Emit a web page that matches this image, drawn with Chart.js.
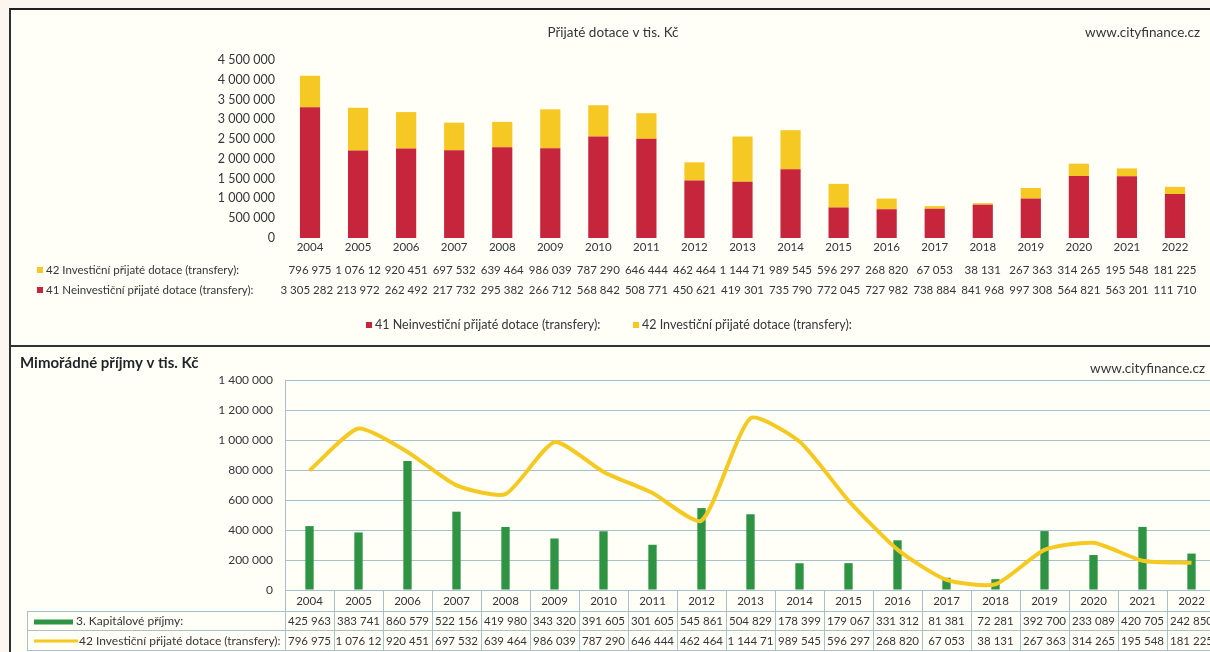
<!DOCTYPE html>
<html>
<head>
<meta charset="utf-8">
<script src="https://cdn.jsdelivr.net/npm/chart.js@4.4.1/dist/chart.umd.min.js"></script>
<style>
  html, body { margin: 0; padding: 0; width: 1210px; height: 652px; overflow: hidden; background: #fcf6f1; }
  #frame { position: absolute; left: 9px; top: 8px; width: 1210px; height: 660px; background: #fffef7;
           border-top: 2px solid #1f1f1f; border-left: 2px solid #2b3035; box-sizing: border-box; }
  #sep { position: absolute; left: 9px; top: 345px; width: 1210px; height: 0; border-top: 2px solid #2b3338; }
  #topBox { position: absolute; left: 0; top: 0; width: 1210px; height: 346px; }
  #bottomBox { position: absolute; left: 0; top: 346px; width: 1230px; height: 306px; }
</style>
</head>
<body>
<div id="frame"></div>
<div id="sep"></div>
<div id="topBox"><canvas id="topChart"></canvas></div>
<div id="bottomBox"><canvas id="bottomChart"></canvas></div>
<script>
const years = ['2004', '2005', '2006', '2007', '2008', '2009', '2010', '2011', '2012', '2013',
               '2014', '2015', '2016', '2017', '2018', '2019', '2020', '2021', '2022'];
// 41 Neinvestiční přijaté dotace (transfery)
const neinvesticni = [3305282, 2213972, 2262492, 2217732, 2295382, 2266712, 2568842, 2508771, 1450621, 1419301,
                      1735790, 772045, 727982, 738884, 841968, 997308, 1564821, 1563201, 1111710];
// 42 Investiční přijaté dotace (transfery)
const investicni = [796975, 1076120, 920451, 697532, 639464, 986039, 787290, 646444, 462464, 1144710,
                    989545, 596297, 268820, 67053, 38131, 267363, 314265, 195548, 181225];
// 3. Kapitálové příjmy
const kapitalove = [425963, 383741, 860579, 522156, 419980, 343320, 391605, 301605, 545861, 504829,
                    178399, 179067, 331312, 81381, 72281, 392700, 233089, 420705, 242850];

const topMax = 4500000, topStep = 500000;
const bottomMax = 1400000, bottomStep = 200000;

const RED = '#c6253c';
const YELLOW = '#f6c823';
const GREEN = '#2e9443';
const LINE_YELLOW = '#f4ca22';
const TEXT = '#33363a';
const GRID = '#a8bfcc';
const FONT = 'Lato, "Open Sans", sans-serif';

const fmt = v => String(Math.round(v)).replace(/\B(?=(\d{3})+(?!\d))/g, ' ');

// value text centred in its cell; when too wide, characters are dropped (from the end, or the front)
function cellText(ctx, txt, cx, w, y, fromFront) {
    let t = txt;
    while (t.length > 1 && ctx.measureText(t).width > w - 1) t = fromFront ? t.slice(1) : t.slice(0, -1);
    ctx.textAlign = 'center';
    ctx.fillText(t.trim(), cx, y);
}

const topExtras = {
    id: 'topExtras',
    afterDraw(chart) {
        const { ctx, scales: { x } } = chart;
        const w = x.width / years.length;
        ctx.save();
        ctx.fillStyle = TEXT;
        ctx.textBaseline = 'middle';
        ctx.font = '13.5px ' + FONT;
        ctx.textAlign = 'center';
        ctx.fillText('Přijaté dotace v tis. Kč', 613, 33);
        ctx.textAlign = 'right';
        ctx.fillText('www.cityfinance.cz', 1200, 33);

        const rows = [
            { data: investicni, color: YELLOW, label: '42 Investiční přijaté dotace (transfery):', y: 270, front: false },
            { data: neinvesticni, color: RED, label: '41 Neinvestiční přijaté dotace (transfery):', y: 290, front: true }
        ];
        rows.forEach(r => {
            ctx.fillStyle = r.color;
            ctx.fillRect(37, r.y - 3, 6, 6);
            ctx.fillStyle = TEXT;
            ctx.font = '11.5px ' + FONT;
            ctx.textAlign = 'left';
            ctx.fillText(r.label, 46, r.y);
            r.data.forEach((v, i) => {
                const cx = x.getPixelForValue(i);
                if (i === 0 && r.front) {
                    // first cell has room on its left, so the full number is shown
                    ctx.textAlign = 'right';
                    ctx.fillText(fmt(v), cx + w / 2 - 1, r.y);
                } else {
                    cellText(ctx, fmt(v), cx, w, r.y, r.front);
                }
            });
        });

        // legend
        ctx.font = '12.5px ' + FONT;
        ctx.textAlign = 'left';
        ctx.fillStyle = RED;
        ctx.fillRect(366, 322, 6, 6);
        ctx.fillStyle = TEXT;
        ctx.fillText('41 Neinvestiční přijaté dotace (transfery):', 375, 325);
        ctx.fillStyle = YELLOW;
        ctx.fillRect(633, 322, 6, 6);
        ctx.fillStyle = TEXT;
        ctx.fillText('42 Investiční přijaté dotace (transfery):', 642, 325);
        ctx.restore();
    }
};

const bottomExtras = {
    id: 'bottomExtras',
    afterDraw(chart) {
        const { ctx, scales: { x, y } } = chart;
        const w = x.width / years.length;
        const base = y.getPixelForValue(0);
        const r1 = base + 21, r2 = base + 40, r3 = base + 60;
        ctx.save();
        ctx.fillStyle = '#1f2428';
        ctx.textBaseline = 'middle';
        ctx.font = 'bold 15px ' + FONT;
        ctx.textAlign = 'left';
        ctx.fillText('Mimořádné příjmy v tis. Kč', 20, 17);
        ctx.font = '13.5px ' + FONT;
        ctx.fillStyle = TEXT;
        ctx.textAlign = 'right';
        ctx.fillText('www.cityfinance.cz', 1205, 23);

        // table lines
        ctx.strokeStyle = GRID;
        ctx.lineWidth = 1;
        ctx.beginPath();
        for (let i = 0; i <= years.length; i++) {
            const px = Math.round(x.left + i * w) + 0.5;
            ctx.moveTo(px, base);
            ctx.lineTo(px, r3);
        }
        [r1, r2, r3].forEach(yy => {
            ctx.moveTo(27, Math.round(yy) + 0.5);
            ctx.lineTo(1230, Math.round(yy) + 0.5);
        });
        ctx.moveTo(27.5, r1);
        ctx.lineTo(27.5, r3);
        ctx.stroke();

        // years
        ctx.fillStyle = TEXT;
        ctx.font = '11.5px ' + FONT;
        years.forEach((yr, i) => {
            ctx.textAlign = 'center';
            ctx.fillText(yr, x.getPixelForValue(i), (base + r1) / 2 + 1);
        });

        // series rows
        const c2 = (r1 + r2) / 2 + 1, c3 = (r2 + r3) / 2 + 1;
        ctx.fillStyle = GREEN;
        ctx.fillRect(34, c2 - 2, 39, 5);
        ctx.strokeStyle = LINE_YELLOW;
        ctx.lineWidth = 3;
        ctx.beginPath();
        ctx.moveTo(34, c3);
        ctx.lineTo(78, c3);
        ctx.stroke();
        ctx.fillStyle = TEXT;
        ctx.font = '12px ' + FONT;
        ctx.textAlign = 'left';
        ctx.fillText('3. Kapitálové příjmy:', 76, c2);
        ctx.fillText('42 Investiční přijaté dotace (transfery):', 79, c3);
        ctx.font = '11.5px ' + FONT;
        kapitalove.forEach((v, i) => cellText(ctx, fmt(v), x.getPixelForValue(i), w, c2, false));
        investicni.forEach((v, i) => cellText(ctx, fmt(v), x.getPixelForValue(i), w, c3, false));
        ctx.restore();
    }
};

new Chart(document.getElementById('topChart'), {
    type: 'bar',
    data: {
        labels: years,
        datasets: [
            { label: '41 Neinvestiční přijaté dotace (transfery):', data: neinvesticni, backgroundColor: RED },
            { label: '42 Investiční přijaté dotace (transfery):', data: investicni, backgroundColor: YELLOW }
        ]
    },
    options: {
        responsive: true,
        maintainAspectRatio: false,
        devicePixelRatio: 1,
        animation: false,
        layout: { padding: { left: 0, right: 11, top: 60, bottom: 0 } },
        datasets: { bar: { categoryPercentage: 1, barPercentage: 0.42 } },
        plugins: { legend: { display: false }, tooltip: { enabled: false } },
        scales: {
            x: {
                stacked: true,
                grid: { display: false, drawTicks: false },
                border: { display: false },
                ticks: { color: TEXT, font: { family: FONT, size: 11.5 }, padding: 2, maxRotation: 0, autoSkip: false },
                afterFit: s => { s.height = 108; }
            },
            y: {
                stacked: true,
                min: 0,
                max: topMax,
                grid: { display: false, drawTicks: false },
                border: { display: false },
                ticks: { stepSize: topStep, color: TEXT, padding: 11, font: { family: FONT, size: 12.5 }, callback: v => fmt(v) },
                afterFit: s => { s.width = 286; }
            }
        }
    },
    plugins: [topExtras]
});

new Chart(document.getElementById('bottomChart'), {
    data: {
        labels: years,
        datasets: [
            {
                type: 'line', label: '42 Investiční přijaté dotace (transfery):', data: investicni,
                borderColor: LINE_YELLOW, borderWidth: 4, pointRadius: 0, tension: 0.2, order: 0
            },
            {
                type: 'bar', label: '3. Kapitálové příjmy:', data: kapitalove,
                backgroundColor: GREEN, categoryPercentage: 1, barPercentage: 0.17, order: 1
            }
        ]
    },
    options: {
        responsive: true,
        maintainAspectRatio: false,
        devicePixelRatio: 1,
        animation: false,
        layout: { padding: { left: 0, right: 14, top: 34, bottom: 0 } },
        plugins: { legend: { display: false }, tooltip: { enabled: false } },
        scales: {
            x: {
                grid: { display: false, drawTicks: false },
                border: { display: false },
                ticks: { display: false },
                afterFit: s => { s.height = 62; }
            },
            y: {
                min: 0,
                max: bottomMax,
                grid: { color: GRID, lineWidth: 1, drawTicks: false },
                border: { display: true, color: GRID },
                ticks: { stepSize: bottomStep, color: TEXT, padding: 12, font: { family: FONT, size: 12 }, callback: v => fmt(v) },
                afterFit: s => { s.width = 285; }
            }
        }
    },
    plugins: [bottomExtras]
});
</script>
</body>
</html>
